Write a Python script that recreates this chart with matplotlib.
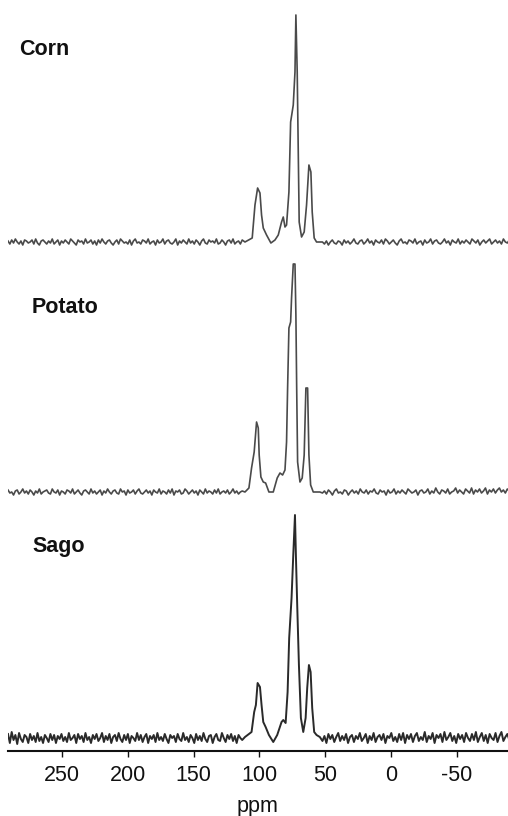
import numpy as np
import matplotlib
matplotlib.use("Agg")
import matplotlib.pyplot as plt

plt.rcParams['font.family'] = ['Liberation Sans', 'DejaVu Sans']

# ---------------- data (ppm, intensity in arbitrary units) ----------------
samples = ["Corn", "Potato", "Sago"]

# baseline noise (left: 291 -> 113 ppm, right: 52 -> -90 ppm)
corn_noise_left = [1, -2, 2, -1, 3, 0, -2, 1, -3, 2, 1, -1, 0, 2, -2, 3, -1, -3, 1, 2,
                   0, -2, 1, -1, 3, -2, 0, 2, -3, 1, -1, 2, 0, -2, 3, 1, -1, -3, 2, 0,
                   1, -2, 3, -1, 0, 2, -2, 1, -3, 2, -1, 3, 0, -2, 1, 2, -1, -3, 0, 2,
                   -2, 3, 1, -1, 0, -2, 2, -3, 1, 3, -1, 0, -2, 2, 1, -1, 3, -2, 0, 1,
                   -3, 2, -1, 0, 3, -2, 1, 2, -1, -2, 0, 3, -3, 1, -1, 2, 0, -2, 3, -1,
                   1, -2, 2, 0, -3, 1, 3, -1, -2, 2, 0, 1, -1, 3, -2, -1, 2, 0, -3, 1,
                   2, -1, 3, -2, 0, 1, -2, 2]
corn_noise_right = [0, -2, 1, -3, 0, 2, -1, -2, 1, 0, -3, 2, -1, 1, -2, 0, 3, -1, -2, 1,
                    2, -2, 0, 3, -1, 1, -3, 2, 0, -1, 2, -2, 3, 1, -2, 0, 2, -1, -3, 1,
                    3, -1, 0, -2, 2, 1, -1, 3, -2, 0, 1, -3, 2, -1, 0, 3, -2, 1, 2, -1,
                    -2, 0, 3, -1, 1, -3, 2, 0, -1, 3, -2, 1, -1, 2, 0, -2, 3, 1, -1, 2,
                    -3, 0, 2, -1, 1, 3, -2, 0, 2, -1, 1, -2, 3, 0, -1, 2]
potato_noise_left = [2, -1, 0, -3, 1, 2, -2, 0, 3, -1, 1, -2, 2, 0, -3, 1, -1, 3, -2, 0,
                     1, 2, -1, -2, 3, 0, -1, 2, -3, 1, 0, -2, 2, 1, -1, 3, -2, 0, 2, -1,
                     -3, 1, 2, 0, -2, 3, -1, 1, -2, 0, 2, -3, 1, -1, 3, 0, -2, 1, 2, -1,
                     -2, 3, 0, 1, -3, 2, -1, 0, 2, -2, 1, 3, -1, -2, 0, 2, -1, 1, -3, 2,
                     0, -1, 3, -2, 1, 0, -2, 2, -1, 3, -3, 1, 0, 2, -2, -1, 3, 1, -2, 0,
                     2, -1, 1, -3, 2, 0, -2, 3, -1, 1, 0, -2, 2, -1, 3, -2, 0, 1, -1, 2,
                     -2, 0, 3, -1, 1, -2, 0, 1]
potato_noise_right = [-1, 1, -2, 2, 0, -3, 1, 3, -1, 0, -2, 2, 1, -3, 0, 2, -1, 1, -2, 3,
                      0, -1, 2, -2, 1, 0, 3, -1, -2, 2, 0, 1, -3, 2, -1, 0, 3, -2, 1, -1,
                      2, 0, -2, 3, 1, -1, 0, 2, -3, 1, 2, -1, 0, 3, -2, 1, -1, 4, 0, -2,
                      2, 1, -1, 3, -2, 0, 1, 4, -1, 2, 0, -2, 3, 1, -1, 4, -2, 2, 0, 3,
                      -1, 1, 4, -2, 2, 0, 3, -1, 2, 4, 0, 2, -1, 3, 1]
sago_noise_left = [4, -5, 6, -2, 3, -6, 5, -1, -4, 3, 1, -5, 4, -2, 2, -4, 5, -3, 1, -5,
                   3, 0, -4, 4, -2, 3, -5, 2, -1, 4, -3, 1, -4, 5, -2, 0, 3, -5, 4, -1,
                   2, -4, 5, -2, 1, -5, 3, -1, 4, -3, 0, 5, -4, 2, -2, 4, -5, 1, 3, -3,
                   5, -1, -4, 3, -2, 4, -5, 2, 0, -3, 5, -2, 3, -4, 1, 4, -5, 2, -1, 3,
                   -4, 5, -2, 1, -3, 4, -1, -5, 3, 0, 2, -4, 4, -1, -3, 5, -2, 1, -4, 3,
                   0, -5, 4, -2, 2, -3, 5, -1, -4, 2, 3, -5, 1, 4, -2, -3, 5, 0, -4, 3,
                   -1, 4, -3, 2, -5, 3, 0, -2]
sago_noise_right = [-3, 2, -5, 4, -1, 3, -4, 1, 5, -3, 2, -2, 4, -5, 1, 3, -4, 2, -1, 5,
                    -3, 0, 4, -5, 2, -2, 5, -4, 1, 3, -2, 4, -5, 2, 0, 5, -3, 1, -4, 4,
                    -2, 5, -5, 3, -1, 4, -4, 2, 5, -3, 1, -2, 6, -4, 2, -1, 5, -5, 3, 0,
                    4, -4, 6, -2, 1, 5, -3, 2, -5, 4, -1, 3, -4, 5, 0, -3, 4, -2, 6, -4,
                    1, 5, -3, 3, -5, 4, 0, -2, 5, -4, 2, 6, -3, 1, 4, -2]

# resonance region (C1 ~101, C4 ~82, C2/3/5 ~72, C6 ~62 ppm)
corn_ppm = [110.9, 105.4, 103.3, 101.3, 99.5, 98.3, 97.0, 94.5, 91.2, 88.1, 85.6,
            83.1, 81.8, 80.5, 79.3, 77.5, 76.2, 74.2, 72.9, 72.2, 71.2, 70.4, 69.7,
            67.9, 65.9, 64.1, 62.3, 60.8, 59.8, 58.3, 56.5]
corn_int = [0, 4, 37, 54, 49, 27, 14, 7, -1, 2, 7, 20, 25, 15, 17, 50, 120, 137, 170,
            227, 170, 87, 20, 5, 10, 37, 77, 70, 30, 4, 0]

potato_ppm = [110.9, 107.9, 105.9, 103.9, 102.1, 100.8, 100.1, 98.8, 97.0, 95.2,
              92.7, 89.4, 86.4, 84.3, 82.3, 80.5, 79.3, 78.5, 77.5, 76.2, 75.5, 74.2,
              72.9, 72.2, 71.6, 70.9, 69.1, 67.4, 65.9, 64.6, 63.3, 62.3, 61.0, 59.0, 54.0]
potato_int = [0, 4, 24, 40, 70, 64, 37, 15, 10, 9, 0, 0, 14, 19, 17, 22, 50, 104, 164,
              170, 194, 228, 228, 177, 104, 30, 10, 14, 37, 104, 104, 37, 7, 0, 0]

sago_ppm = [110.9, 105.9, 103.9, 102.6, 101.3, 99.5, 98.3, 97.0, 95.2, 92.7, 89.4,
            86.4, 83.1, 81.8, 80.0, 78.5, 77.3, 75.5, 74.2, 72.9, 72.2, 71.2, 69.9,
            68.4, 66.6, 64.8, 63.6, 62.3, 61.0, 59.8, 58.3, 56.5, 54.0]
sago_int = [1, 6, 26, 33, 55, 51, 33, 16, 11, 3, -4, 3, 16, 18, 15, 46, 100, 140, 183,
            223, 183, 133, 73, 20, 6, 20, 50, 73, 66, 30, 6, 3, 1]

xticks = [250, 200, 150, 100, 50, 0, -50]
xlabel = "ppm"

# ---------------- layout / style ----------------
W, H, DPI = 508, 816, 100
offsets = {"Corn": 509, "Potato": 259, "Sago": 13}
colors = {"Corn": "#4a4a4a", "Potato": "#4a4a4a", "Sago": "#2a2a2a"}
widths = {"Corn": 1.2, "Potato": 1.2, "Sago": 1.4}
label_pos = {"Corn": (19, 55), "Potato": (32, 313), "Sago": (32, 552)}

series = {
    "Corn": (corn_noise_left, corn_ppm, corn_int, corn_noise_right),
    "Potato": (potato_noise_left, potato_ppm, potato_int, potato_noise_right),
    "Sago": (sago_noise_left, sago_ppm, sago_int, sago_noise_right),
}

fig = plt.figure(figsize=(W / DPI, H / DPI), dpi=DPI)
ax = fig.add_axes([8 / W, (H - 751) / H, 1 - 8 / W, 751 / H])

for name in samples:
    nl, pp, pi, nr = series[name]
    x = np.concatenate([np.linspace(291, 113, len(nl)), pp, np.linspace(52, -90, len(nr))])
    y = np.concatenate([nl, pi, nr]).astype(float) + offsets[name]
    ax.plot(x, y, color=colors[name], lw=widths[name])
    lx, ly = label_pos[name]
    fig.text(lx / W, 1 - ly / H, name, fontsize=15.5, fontweight='bold',
             ha='left', va='baseline', color='#111111')

ax.set_xlim(291, -89)
ax.set_ylim(0, 751)
for s in ['top', 'right', 'left']:
    ax.spines[s].set_visible(False)
ax.spines['bottom'].set_linewidth(1.5)
ax.spines['bottom'].set_color('#111111')
ax.set_yticks([])
ax.set_xticks(xticks)
ax.set_xticklabels([str(t) for t in xticks])
ax.tick_params(axis='x', direction='out', length=4, width=1, pad=6,
               labelsize=15.5, colors='#111111')
ax.set_xlabel(xlabel, fontsize=15.5, labelpad=7, color='#111111')

fig.savefig("out.png", dpi=DPI)
